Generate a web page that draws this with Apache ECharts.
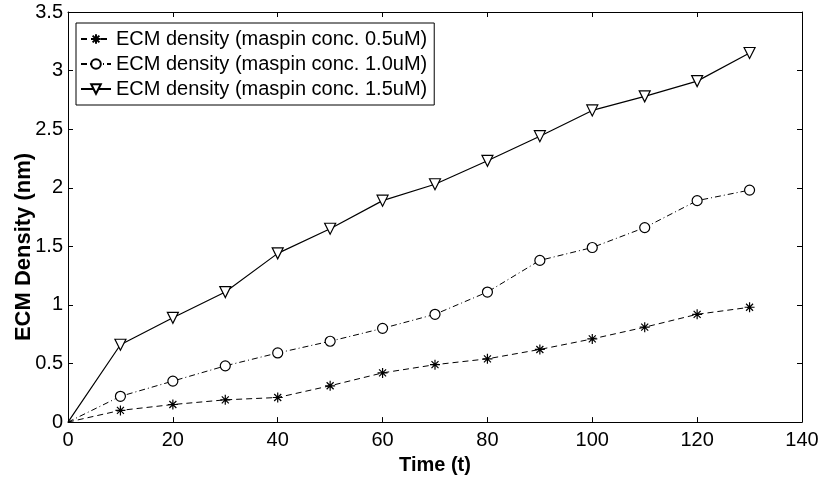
<!DOCTYPE html>
<html>
<head>
<meta charset="utf-8" />
<title>ECM density</title>
<script src="https://cdn.jsdelivr.net/npm/echarts@6/dist/echarts.min.js"></script>
<style>
  html,
  body {
    margin: 0;
    padding: 0;
    background: #fff;
  }
  #main {
    width: 822px;
    height: 480px;
  }
</style>
</head>
<body>
<div id="main"></div>
<script>
// time points (t)
const times = [0, 10, 20, 30, 40, 50, 60, 70, 80, 90, 100, 110, 120, 130];
// ECM density (nm) for each maspin concentration
const conc05 = [0, 0.1, 0.15, 0.19, 0.21, 0.31, 0.42, 0.49, 0.54, 0.62, 0.71, 0.81, 0.92, 0.98];
const conc10 = [0, 0.22, 0.35, 0.48, 0.59, 0.69, 0.8, 0.92, 1.11, 1.38, 1.49, 1.66, 1.89, 1.98];
const conc15 = [0, 0.66, 0.89, 1.11, 1.44, 1.65, 1.89, 2.03, 2.23, 2.44, 2.66, 2.78, 2.91, 3.15];
const seriesNames = [
  "ECM density (maspin conc. 0.5uM)",
  "ECM density (maspin conc. 1.0uM)",
  "ECM density (maspin conc. 1.5uM)",
];

const FONT = "Liberation Sans, Arial, sans-serif";
// asterisk marker like matlab's '*'
const starPath =
  "path://M0,5L10,5M5,0L5,10M1.5,1.5L8.5,8.5M8.5,1.5L1.5,8.5";

function pairs(values) {
  return times.map((t, i) => [t, values[i]]);
}

// no marker drawn at the origin point
function markerSize(size) {
  return function (value, params) {
    return params.dataIndex === 0 ? 0 : size;
  };
}

const chartDom = document.getElementById("main");
const myChart = echarts.init(chartDom, null, { renderer: "canvas" });
let option;

function tickStyle() {
  return {
    show: true,
    inside: true,
    length: 5,
    lineStyle: { color: "#000", width: 1 },
  };
}
function lineAxis() {
  // onZero off, otherwise the mirror axes snap onto the zero line
  return { show: true, onZero: false, lineStyle: { color: "#000", width: 1 } };
}

option = {
  animation: false,
  backgroundColor: "#fff",
  textStyle: { fontFamily: FONT },
  grid: {
    left: 68,
    right: 20,
    top: 12,
    bottom: 48,
  },
  legend: {
    orient: "vertical",
    left: 76,
    top: 23,
    padding: [6, 7, 6, 4],
    itemWidth: 30,
    itemHeight: 12,
    itemGap: 5,
    selectedMode: false,
    backgroundColor: "#fff",
    borderColor: "#000",
    borderWidth: 1,
    borderRadius: 0,
    textStyle: {
      fontFamily: FONT,
      fontSize: 20,
      color: "#000",
      lineHeight: 20,
    },
    data: seriesNames,
  },
  xAxis: [
    {
      type: "value",
      min: 0,
      max: 140,
      interval: 20,
      name: "Time (t)",
      nameLocation: "middle",
      nameGap: 26,
      nameTextStyle: {
        fontFamily: FONT,
        fontSize: 20,
        fontWeight: "bold",
        color: "#000",
      },
      axisLine: lineAxis(),
      axisTick: tickStyle(),
      axisLabel: {
        margin: 8,
        fontFamily: FONT,
        fontSize: 20,
        color: "#000",
      },
      splitLine: { show: false },
    },
    {
      type: "value",
      position: "top",
      min: 0,
      max: 140,
      interval: 20,
      axisLine: lineAxis(),
      axisTick: tickStyle(),
      axisLabel: { show: false },
      splitLine: { show: false },
    },
  ],
  yAxis: [
    {
      type: "value",
      min: 0,
      max: 3.5,
      interval: 0.5,
      axisLine: lineAxis(),
      axisTick: tickStyle(),
      axisLabel: {
        margin: 5,
        fontFamily: FONT,
        fontSize: 20,
        color: "#000",
      },
      splitLine: { show: false },
    },
    {
      type: "value",
      position: "right",
      min: 0,
      max: 3.5,
      interval: 0.5,
      axisLine: lineAxis(),
      axisTick: tickStyle(),
      axisLabel: { show: false },
      splitLine: { show: false },
    },
  ],
  graphic: [
    {
      type: "text",
      x: 24,
      y: 247,
      rotation: Math.PI / 2,
      style: {
        text: "ECM Density (nm)",
        font: "bold 22px " + FONT,
        fill: "#000",
        align: "center",
        verticalAlign: "middle",
      },
    },
  ],
  series: [
    {
      name: seriesNames[0],
      type: "line",
      symbol: starPath,
      symbolSize: markerSize(10),
      showAllSymbol: true,
      lineStyle: { color: "#000", width: 1, type: [6, 4] },
      itemStyle: { color: "#000", borderColor: "#000", borderWidth: 1.2 },
      data: pairs(conc05),
    },
    {
      name: seriesNames[1],
      type: "line",
      symbol: "circle",
      symbolSize: markerSize(10),
      showAllSymbol: true,
      lineStyle: { color: "#000", width: 1, type: [6, 3, 1, 3] },
      itemStyle: { color: "#fff", borderColor: "#000", borderWidth: 1.2 },
      data: pairs(conc10),
    },
    {
      name: seriesNames[2],
      type: "line",
      symbol: "triangle",
      symbolRotate: 180,
      symbolSize: markerSize(11),
      showAllSymbol: true,
      lineStyle: { color: "#000", width: 1.2, type: "solid" },
      itemStyle: { color: "#fff", borderColor: "#000", borderWidth: 1.2 },
      data: pairs(conc15),
    },
  ],
};

option && myChart.setOption(option);
</script>
</body>
</html>
